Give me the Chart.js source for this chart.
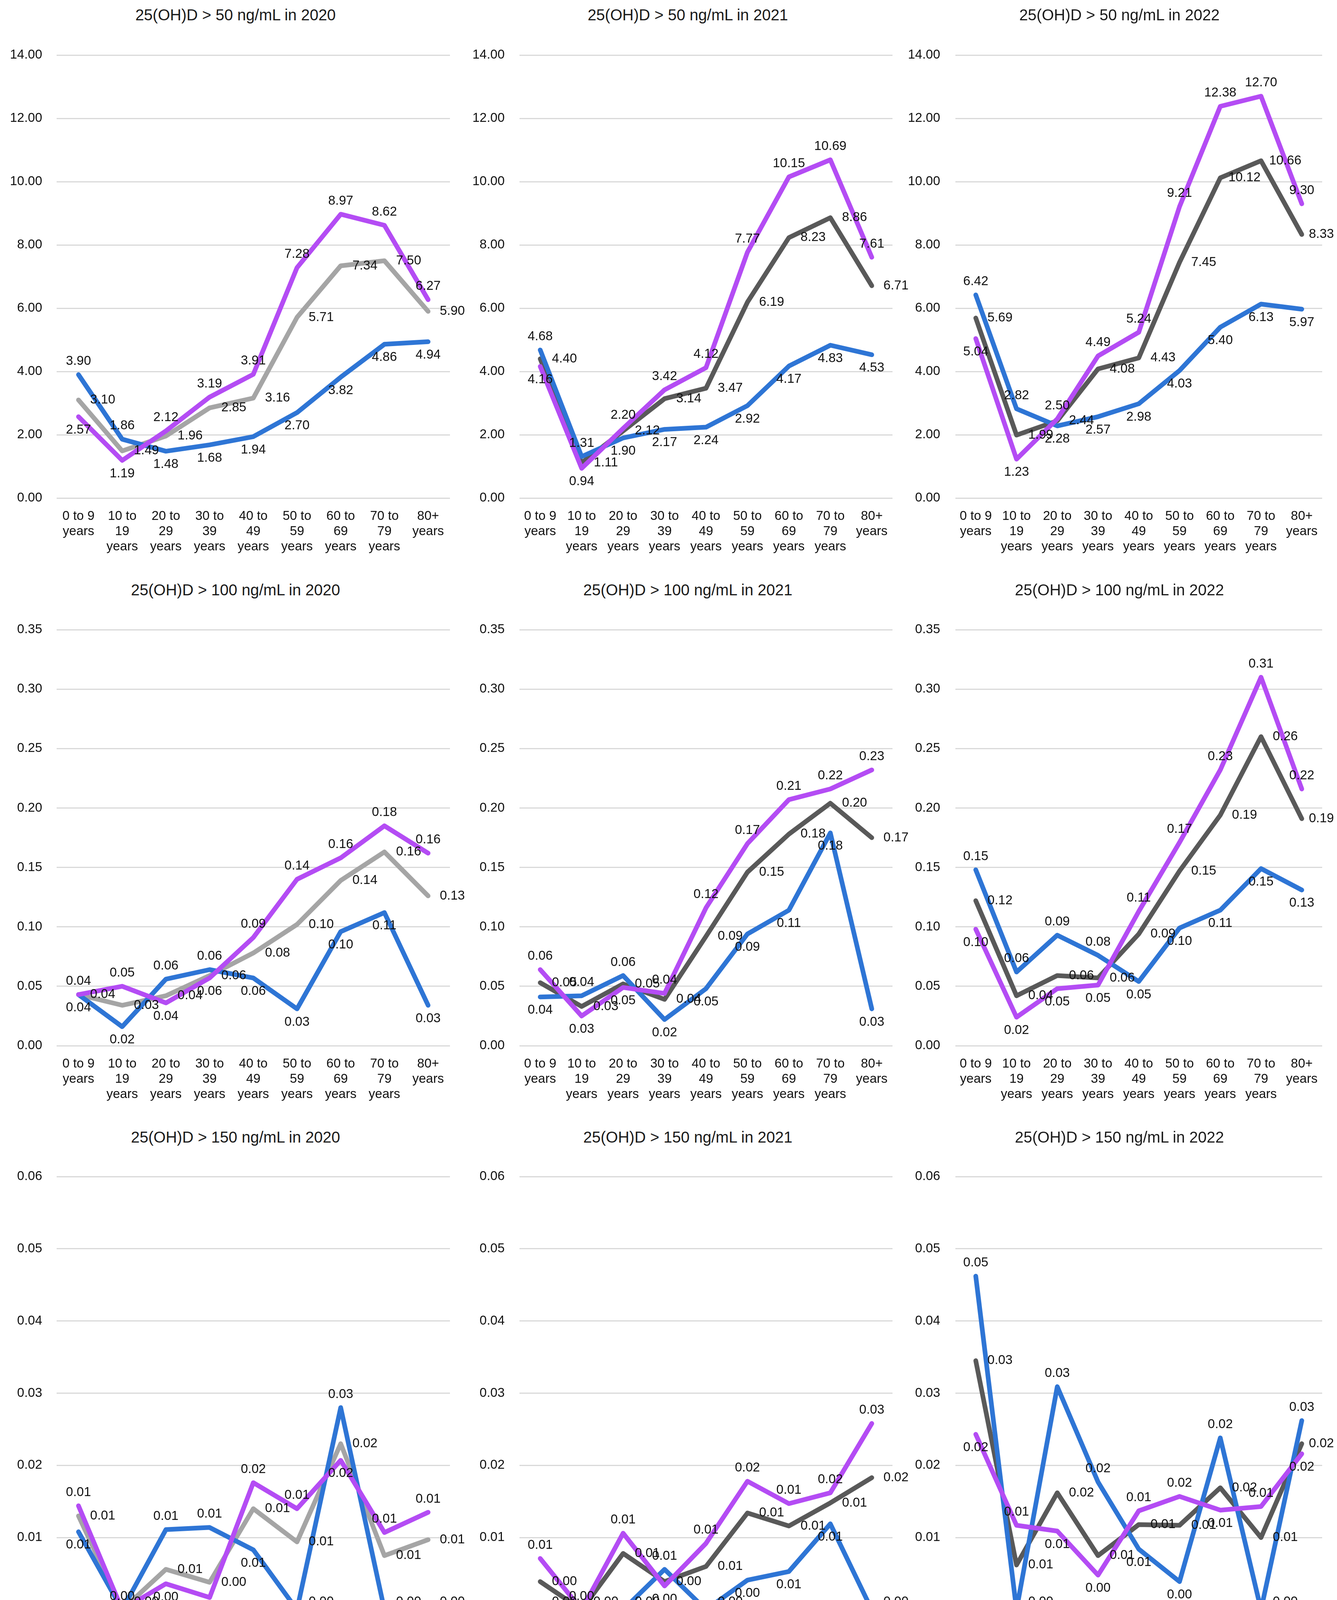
<!DOCTYPE html>
<html lang="en">
<head>
    <meta charset="UTF-8">
    <title>25(OH)D by age group, 2020-2022</title>
    <script src="https://cdn.jsdelivr.net/npm/chart.js"></script>
    <style>
        html, body { margin: 0; padding: 0; background: #fff; overflow: hidden; }
        body { width: 3423px; height: 4370px; position: relative; font-family: "Liberation Sans", Arial, sans-serif; }
        #page { position: absolute; left: 0; top: 0; width: 3423px; height: 4370px; }
        canvas { position: absolute; }
        .title { position: absolute; width: 1000px; text-align: center; font-size: 40px; color: #1a1a1a; line-height: 46px; }
    </style>
</head>
<body>
<div id="page"></div>

<script>
    // categories
    const ageGroups = [
        ['0 to 9', 'years'], ['10 to', '19', 'years'], ['20 to', '29', 'years'],
        ['30 to', '39', 'years'], ['40 to', '49', 'years'], ['50 to', '59', 'years'],
        ['60 to', '69', 'years'], ['70 to', '79', 'years'], ['80+', 'years']
    ];
    const years = ['2020', '2021', '2022'];
    const cutoffs = ['50', '100', '150'];
    const axisMax = [14, 0.35, 0.06];
    const axisStep = [2, 0.05, 0.01];

    // 25(OH)D > 50 ng/mL
    const female50_2020 = [2.57, 1.19, 2.12, 3.19, 3.91, 7.28, 8.97, 8.62, 6.27];
    const male50_2020   = [3.90, 1.86, 1.48, 1.68, 1.94, 2.70, 3.82, 4.86, 4.94];
    const total50_2020  = [3.10, 1.49, 1.96, 2.85, 3.16, 5.71, 7.34, 7.50, 5.90];
    const female50_2021 = [4.16, 0.94, 2.20, 3.42, 4.12, 7.77, 10.15, 10.69, 7.61];
    const male50_2021   = [4.68, 1.31, 1.90, 2.17, 2.24, 2.92, 4.17, 4.83, 4.53];
    const total50_2021  = [4.40, 1.11, 2.12, 3.14, 3.47, 6.19, 8.23, 8.86, 6.71];
    const female50_2022 = [5.04, 1.23, 2.50, 4.49, 5.24, 9.21, 12.38, 12.70, 9.30];
    const male50_2022   = [6.42, 2.82, 2.28, 2.57, 2.98, 4.03, 5.40, 6.13, 5.97];
    const total50_2022  = [5.69, 1.99, 2.44, 4.08, 4.43, 7.45, 10.12, 10.66, 8.33];

    // 25(OH)D > 100 ng/mL
    const female100_2020 = [0.043, 0.050, 0.036, 0.057, 0.091, 0.140, 0.158, 0.185, 0.162];
    const male100_2020   = [0.043, 0.016, 0.056, 0.064, 0.057, 0.031, 0.096, 0.112, 0.034];
    const total100_2020  = [0.043, 0.034, 0.042, 0.059, 0.078, 0.102, 0.139, 0.163, 0.126];
    const female100_2021 = [0.064, 0.025, 0.049, 0.044, 0.116, 0.170, 0.207, 0.216, 0.232];
    const male100_2021   = [0.041, 0.042, 0.059, 0.022, 0.048, 0.094, 0.114, 0.179, 0.031];
    const total100_2021  = [0.053, 0.033, 0.052, 0.039, 0.092, 0.146, 0.178, 0.204, 0.175];
    const female100_2022 = [0.098, 0.024, 0.048, 0.051, 0.113, 0.171, 0.232, 0.310, 0.216];
    const male100_2022   = [0.148, 0.062, 0.093, 0.076, 0.054, 0.099, 0.114, 0.149, 0.131];
    const total100_2022  = [0.122, 0.042, 0.059, 0.057, 0.094, 0.147, 0.194, 0.260, 0.191];

    // 25(OH)D > 150 ng/mL
    const female150_2020 = [0.0144, 0, 0.0036, 0.0017, 0.0176, 0.0140, 0.0207, 0.0107, 0.0135];
    const male150_2020   = [0.0108, 0, 0.0111, 0.0114, 0.0083, 0, 0.0280, 0, 0];
    const total150_2020  = [0.0130, 0, 0.0056, 0.0038, 0.0140, 0.0094, 0.0230, 0.0075, 0.0097];
    const female150_2021 = [0.0071, 0, 0.0106, 0.0033, 0.0092, 0.0178, 0.0147, 0.0162, 0.0258];
    const male150_2021   = [0, 0, 0, 0.0056, 0, 0.0041, 0.0053, 0.0119, 0];
    const total150_2021  = [0.0039, 0, 0.0078, 0.0039, 0.0060, 0.0134, 0.0116, 0.0148, 0.0183];
    const female150_2022 = [0.0243, 0.0117, 0.0109, 0.0048, 0.0137, 0.0157, 0.0138, 0.0143, 0.0216];
    const male150_2022   = [0.0462, 0, 0.0309, 0.0177, 0.0084, 0.0039, 0.0238, 0, 0.0262];
    const total150_2022  = [0.0345, 0.0062, 0.0162, 0.0075, 0.0118, 0.0117, 0.0169, 0.0100, 0.0230];

    const series = [
        [[female50_2020, male50_2020, total50_2020], [female50_2021, male50_2021, total50_2021], [female50_2022, male50_2022, total50_2022]],
        [[female100_2020, male100_2020, total100_2020], [female100_2021, male100_2021, total100_2021], [female100_2022, male100_2022, total100_2022]],
        [[female150_2020, male150_2020, total150_2020], [female150_2021, male150_2021, total150_2021], [female150_2022, male150_2022, total150_2022]]
    ];

    // layout of the 3x3 grid (page pixels); canvases overlap a little so labels are not clipped
    const colLeft = [0, 1180, 2300];
    const colWidth = [1260, 1230, 1123];
    const yAxisWidth = [145, 150, 146];
    const tickPad = [37, 38, 39];
    const padRight = [108, 125, 38];
    const titleCenter = [603, 1761, 2866];
    const rowTop = [0, 1440, 2880];
    const rowHeight = [1440, 1440, 1483];
    const areaTop = [141, 172, 132];
    const areaBottom = [1275, 1237, 1240];
    const titleMid = [38, 1510, 2911];

    const FEMALE = '#B44CF4', MALE = '#2E75D5';
    const totalColor = ['#A5A5A5', '#595959', '#595959'];
    const FONT = '"Liberation Sans", Arial, sans-serif';
    const page = document.getElementById('page');

    // value labels next to each point: highest above, lowest below, middle to the right
    const pointLabels = {
        id: 'pointLabels',
        afterDatasetsDraw(chart) {
            const ctx = chart.ctx;
            const sets = chart.data.datasets;
            const bottom = chart.chartArea.bottom;
            ctx.save();
            ctx.font = '33px ' + FONT;
            ctx.fillStyle = '#111';
            ctx.textAlign = 'center';
            ctx.textBaseline = 'middle';
            for (let i = 0; i < chart.data.labels.length; i++) {
                const order = sets.map((d, k) => k).sort((a, b) => sets[b].data[i] - sets[a].data[i]);
                order.forEach((k, rank) => {
                    const pt = chart.getDatasetMeta(k).data[i];
                    let x = pt.x, y = pt.y;
                    if (rank === 0) y -= 34;
                    else if (rank === order.length - 1) {
                        // points sitting on the axis get their label beside them, not over the tick labels
                        if (y + 30 > bottom) { x += 62; y -= 20; } else y += 34;
                    }
                    else x += 62;
                    x = Math.min(x, chart.width - 40);
                    ctx.fillText(sets[k].data[i].toFixed(2), x, y);
                });
            }
            ctx.restore();
        }
    };

    for (let r = 0; r < 3; r++) {
        for (let c = 0; c < 3; c++) {
            const t = document.createElement('div');
            t.className = 'title';
            t.textContent = '25(OH)D > ' + cutoffs[r] + ' ng/mL in ' + years[c];
            t.style.left = (titleCenter[c] - 500) + 'px';
            t.style.top = (titleMid[r] - 23) + 'px';
            page.appendChild(t);

            const cv = document.createElement('canvas');
            cv.width = colWidth[c];
            cv.height = rowHeight[r];
            cv.style.left = colLeft[c] + 'px';
            cv.style.top = rowTop[r] + 'px';
            page.appendChild(cv);

            const withLegend = r === 2;
            const [f, m, tot] = series[r][c];
            const xAxisHeight = withLegend ? 158 : rowHeight[r] - areaBottom[r];

            new Chart(cv.getContext('2d'), {
                type: 'line',
                data: {
                    labels: ageGroups,
                    datasets: [
                        { label: years[c] + ', Female', data: f, borderColor: FEMALE, backgroundColor: FEMALE },
                        { label: years[c] + ', Male', data: m, borderColor: MALE, backgroundColor: MALE },
                        { label: years[c] + ', Total', data: tot, borderColor: totalColor[c], backgroundColor: totalColor[c] }
                    ].map(d => Object.assign(d, {
                        borderWidth: 12, pointRadius: 0, tension: 0, fill: false,
                        borderCapStyle: 'round', borderJoinStyle: 'round'
                    }))
                },
                options: {
                    responsive: false,
                    animation: false,
                    devicePixelRatio: 1,
                    layout: { padding: { top: areaTop[r], right: padRight[c], left: 0, bottom: 0 } },
                    plugins: {
                        title: { display: false },
                        tooltip: { enabled: false },
                        legend: {
                            display: withLegend,
                            position: 'bottom',
                            labels: {
                                boxWidth: 98, boxHeight: 16, padding: 40,
                                color: '#111', font: { family: FONT, size: 34 },
                                generateLabels: ch => Chart.defaults.plugins.legend.labels.generateLabels(ch)
                                    .map(l => Object.assign(l, { lineWidth: 0, fillStyle: l.strokeStyle }))
                            }
                        }
                    },
                    scales: {
                        x: {
                            offset: true,
                            grid: { display: false },
                            border: { display: false },
                            ticks: { color: '#111', font: { family: FONT, size: 33, lineHeight: 1.17 }, padding: 20, maxRotation: 0, autoSkip: false },
                            afterFit: s => { s.height = xAxisHeight; }
                        },
                        y: {
                            min: 0, max: axisMax[r],
                            grid: { color: '#D9D9D9', lineWidth: 3, drawTicks: false },
                            border: { display: false },
                            ticks: {
                                stepSize: axisStep[r], padding: tickPad[c], color: '#111',
                                font: { family: FONT, size: 33 },
                                callback: v => v.toFixed(2)
                            },
                            afterFit: s => { s.width = yAxisWidth[c]; }
                        }
                    }
                },
                plugins: [pointLabels]
            });
        }
    }
</script>

</body>
</html>
